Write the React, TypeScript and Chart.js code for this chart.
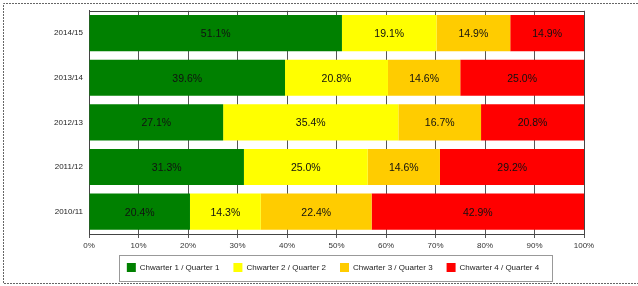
import React, { useEffect, useRef } from "react";
import { Chart, registerables } from "chart.js";

Chart.register(...registerables);

const categories = ["2014/15", "2013/14", "2012/13", "2011/12", "2010/11"];
const quarter1 = [51.1, 39.6, 27.1, 31.3, 20.4];
const quarter2 = [19.1, 20.8, 35.4, 25.0, 14.3];
const quarter3 = [14.9, 14.6, 16.7, 14.6, 22.4];
const quarter4 = [14.9, 25.0, 20.8, 29.2, 42.9];
const seriesLabels = [
  "Chwarter 1 / Quarter 1",
  "Chwarter 2 / Quarter 2",
  "Chwarter 3 / Quarter 3",
  "Chwarter 4 / Quarter 4",
];
const seriesColors = ["#008000", "#FFFF00", "#FFCC00", "#FF0000"];
const xTicks = [0, 10, 20, 30, 40, 50, 60, 70, 80, 90, 100];

const FONT = "'Liberation Sans', Arial, sans-serif";
const W = 638;
const H = 286;
const PLOT_LEFT = 89;
const PLOT_RIGHT = 584;
const PLOT_BOTTOM = 234;
const PAD_BOTTOM = 4;
const LEGEND_SHIFT = 41;

const framePlugin = {
  id: "frame",
  beforeDraw(chart: any) {
    const ctx = chart.ctx;
    const lg = chart.legend;
    if (lg && !lg._shifted) {
      lg.left += LEGEND_SHIFT;
      lg.right += LEGEND_SHIFT;
      (lg.legendHitBoxes || []).forEach((h: any) => {
        h.left += LEGEND_SHIFT;
      });
      lg._shifted = true;
    }
    ctx.save();
    ctx.fillStyle = "#ffffff";
    ctx.fillRect(0, 0, W, H);
    ctx.strokeStyle = "#666";
    ctx.lineWidth = 1;
    ctx.setLineDash([2, 1]);
    ctx.beginPath();
    ctx.moveTo(W, 3.5);
    ctx.lineTo(3.5, 3.5);
    ctx.lineTo(3.5, 283.5);
    ctx.lineTo(W, 283.5);
    ctx.stroke();
    ctx.restore();
  },
  beforeDatasetsDraw(chart: any) {
    const { ctx, chartArea: a } = chart;
    ctx.save();
    ctx.strokeStyle = "#444";
    ctx.lineWidth = 1;
    ctx.beginPath();
    ctx.moveTo(Math.round(a.left) + 0.5, Math.round(a.top) + 0.5);
    ctx.lineTo(Math.round(a.right) + 0.5, Math.round(a.top) + 0.5);
    ctx.lineTo(Math.round(a.right) + 0.5, Math.round(a.bottom) + 0.5);
    ctx.stroke();
    ctx.restore();
  },
  afterDatasetsDraw(chart: any) {
    const ctx = chart.ctx;
    ctx.save();
    ctx.font = `10.5px ${FONT}`;
    ctx.fillStyle = "#111";
    ctx.textAlign = "center";
    ctx.textBaseline = "middle";
    chart.data.datasets.forEach((ds: any, di: number) => {
      const meta = chart.getDatasetMeta(di);
      meta.data.forEach((el: any, i: number) => {
        const v = ds.data[i];
        const cx = (el.x + el.base) / 2;
        ctx.fillText(v.toFixed(1) + "%", cx, el.y + 1);
      });
    });
    ctx.restore();
  },
  afterDraw(chart: any) {
    const lg = chart.legend;
    if (!lg || !lg.legendHitBoxes || !lg.legendHitBoxes.length) return;
    const hb = lg.legendHitBoxes;
    const first = hb[0];
    const last = hb[hb.length - 1];
    const ctx = chart.ctx;
    const left = Math.round(first.left - 8) + 0.5;
    const right = Math.round(last.left + last.width + 13) + 0.5;
    const cy = first.top + first.height / 2;
    const top = Math.round(cy - 13) + 0.5;
    const bottom = Math.round(cy + 13) + 0.5;
    ctx.save();
    ctx.strokeStyle = "#999";
    ctx.lineWidth = 1;
    ctx.strokeRect(left, top, right - left, bottom - top);
    ctx.restore();
  },
};

export default function App() {
  const ref = useRef<HTMLCanvasElement | null>(null);

  useEffect(() => {
    if (!ref.current) return;
    const datasetsValues = [quarter1, quarter2, quarter3, quarter4];
    const chart = new Chart(ref.current, {
      type: "bar",
      data: {
        labels: categories,
        datasets: datasetsValues.map((vals, i) => ({
          label: seriesLabels[i],
          data: vals,
          backgroundColor: seriesColors[i],
          borderWidth: 0,
          categoryPercentage: 1,
          barPercentage: 0.81,
        })),
      },
      options: {
        indexAxis: "y",
        responsive: false,
        animation: false,
        devicePixelRatio: 1,
        layout: { padding: { top: 8, left: 0, right: W - PLOT_RIGHT, bottom: PAD_BOTTOM } },
        plugins: {
          tooltip: { enabled: false },
          legend: {
            display: true,
            position: "bottom",
            labels: {
              font: { family: FONT, size: 8 },
              color: "#222",
              boxWidth: 9,
              boxHeight: 9,
              padding: 14,
            },
          },
        },
        scales: {
          x: {
            stacked: true,
            min: 0,
            max: 100,
            afterBuildTicks: (s: any) => {
              s.ticks = xTicks.map((v) => ({ value: v }));
            },
            afterFit: (s: any) => {
              const lh = s.chart.legend ? s.chart.legend.height : 0;
              s.height = H - PLOT_BOTTOM - PAD_BOTTOM - lh;
            },
            ticks: {
              font: { family: FONT, size: 8 },
              color: "#333",
              padding: 3,
              maxRotation: 0,
              autoSkip: false,
              callback: (v: any) => v + "%",
            },
            grid: {
              color: "#555",
              lineWidth: 1,
              drawTicks: true,
              tickLength: 4,
              tickColor: "#555",
            },
            border: { display: true, color: "#444" },
          },
          y: {
            stacked: true,
            afterFit: (s: any) => {
              s.width = PLOT_LEFT;
            },
            ticks: {
              font: { family: FONT, size: 8 },
              color: "#222",
              padding: 6,
            },
            grid: { display: false, drawTicks: false },
            border: { display: true, color: "#444" },
          },
        },
      },
      plugins: [framePlugin],
    });
    return () => chart.destroy();
  }, []);

  return (
    <div style={{ position: "fixed", left: 0, top: 0, width: W, height: H, background: "#fff" }}>
      <canvas ref={ref} width={W} height={H} style={{ display: "block", width: W, height: H }} />
    </div>
  );
}
